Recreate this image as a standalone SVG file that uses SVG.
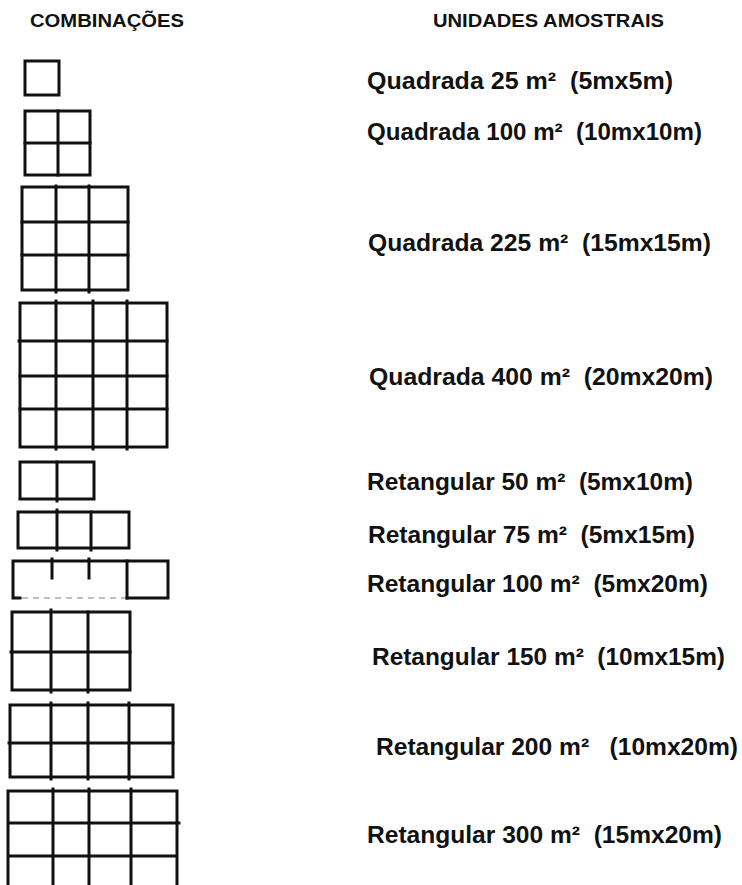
<svg xmlns="http://www.w3.org/2000/svg" width="742" height="885" viewBox="0 0 742 885">
<style>
.g{fill:none;stroke:#111;stroke-width:3;stroke-linecap:square}
.h{font-family:"Liberation Sans",Arial,sans-serif;font-weight:bold;font-size:19px;fill:#111}
.t{font-family:"Liberation Sans",Arial,sans-serif;font-weight:bold;font-size:24px;fill:#111;white-space:pre}
.f{fill:none;stroke:#aaa;stroke-width:1.5;stroke-dasharray:6 5}
</style>
<rect width="742" height="885" fill="#fff"/>
<g id="headings">
<text class="h" x="30" y="27" textLength="154" lengthAdjust="spacingAndGlyphs">COMBINAÇÕES</text>
<text class="h" x="433" y="27" textLength="231" lengthAdjust="spacingAndGlyphs">UNIDADES AMOSTRAIS</text>
</g>
<g id="grid-25">
<rect class="g" x="25" y="61" width="34" height="34"/>
</g>
<g id="grid-100q">
<rect class="g" x="25" y="111" width="65" height="64"/>
<path class="g" d="M58 111V175M25 143H90"/>
</g>
<g id="grid-225">
<rect class="g" x="22" y="187" width="106" height="103"/>
<path class="g" d="M56 186V292M89 186V292M22 222H128M22 255H128"/>
</g>
<g id="grid-400">
<rect class="g" x="20" y="303" width="147" height="144"/>
<path class="g" d="M56 301V449M93 301V449M127 301V449M19 341H167M20 376H167M20 409H167"/>
</g>
<g id="grid-50">
<rect class="g" x="20" y="462" width="74" height="37"/>
<path class="g" d="M57 462V501"/>
</g>
<g id="grid-75">
<rect class="g" x="18" y="512" width="111" height="36"/>
<path class="g" d="M57 510V550M91 512V550"/>
</g>
<g id="grid-100r">
<path class="g" d="M127 598H168V561H13V598H20"/>
<path class="g" d="M127 561V598M52 559V578M89 559V578"/>
<path class="f" d="M22 598H125"/>
</g>
<g id="grid-150">
<rect class="g" x="12" y="612" width="118" height="78"/>
<path class="g" d="M51 610V692M88 612V692M11 652H130"/>
</g>
<g id="grid-200">
<rect class="g" x="10" y="705" width="163" height="72"/>
<path class="g" d="M51 703V779M88 703V779M129 703V779M9 743H173"/>
</g>
<g id="grid-300">
<path class="g" d="M8 791H177M8 823H179M8 856H177M8 791V885M53 789V885M89 789V885M131 789V885M177 791V885"/>
</g>
<g id="labels">
<text class="t" x="367" y="89" textLength="306" lengthAdjust="spacingAndGlyphs">Quadrada 25 m²  (5mx5m)</text>
<text class="t" x="367" y="140" textLength="335" lengthAdjust="spacingAndGlyphs">Quadrada 100 m²  (10mx10m)</text>
<text class="t" x="368" y="251" textLength="343" lengthAdjust="spacingAndGlyphs">Quadrada 225 m²  (15mx15m)</text>
<text class="t" x="369" y="385" textLength="344" lengthAdjust="spacingAndGlyphs">Quadrada 400 m²  (20mx20m)</text>
<text class="t" x="367" y="490" textLength="326" lengthAdjust="spacingAndGlyphs">Retangular 50 m²  (5mx10m)</text>
<text class="t" x="368" y="543" textLength="327" lengthAdjust="spacingAndGlyphs">Retangular 75 m²  (5mx15m)</text>
<text class="t" x="367" y="592" textLength="341" lengthAdjust="spacingAndGlyphs">Retangular 100 m²  (5mx20m)</text>
<text class="t" x="372" y="665" textLength="353" lengthAdjust="spacingAndGlyphs">Retangular 150 m²  (10mx15m)</text>
<text class="t" x="376" y="755" textLength="362" lengthAdjust="spacingAndGlyphs">Retangular 200 m²   (10mx20m)</text>
<text class="t" x="367" y="843" textLength="355" lengthAdjust="spacingAndGlyphs">Retangular 300 m²  (15mx20m)</text>
</g>
</svg>
